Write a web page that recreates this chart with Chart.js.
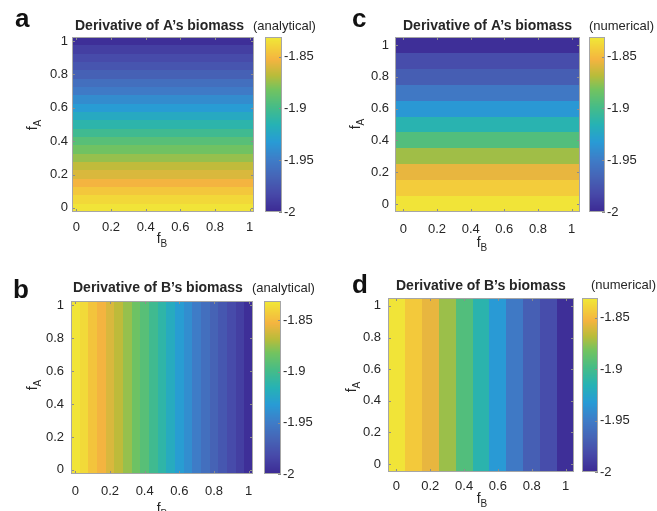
<!DOCTYPE html>
<html>
<head>
<meta charset="utf-8">
<script src="https://cdn.jsdelivr.net/npm/chart.js@4.4.0/dist/chart.umd.min.js"></script>
<style>
  body { margin: 0; background: #fff; width: 657px; height: 511px; overflow: hidden; position: relative; }
  canvas { position: absolute; }
</style>
</head>
<body>
<script>
// grid of fractions (f_A rows / f_B columns)
const fFine = [0, 0.05, 0.1, 0.15, 0.2, 0.25, 0.3, 0.35, 0.4, 0.45, 0.5,
               0.55, 0.6, 0.65, 0.7, 0.75, 0.8, 0.85, 0.9, 0.95, 1];
const fCoarse = [0, 0.1, 0.2, 0.3, 0.4, 0.5, 0.6, 0.7, 0.8, 0.9, 1];
const axisTicks = [0, 0.2, 0.4, 0.6, 0.8, 1];
const cbarTicks = [-2, -1.95, -1.9, -1.85];
const cbarMin = -2;
const cbarMax = -1.831;

// derivative of A's biomass, one value per f_A row (constant along f_B)
const dAanalytical = [-1.833, -1.838, -1.845, -1.853, -1.860, -1.866, -1.875, -1.883, -1.892, -1.902, -1.912,
                      -1.922, -1.932, -1.941, -1.951, -1.959, -1.968, -1.975, -1.981, -1.988, -1.997];
const dAnumerical = [-1.833, -1.843, -1.856, -1.873, -1.894, -1.914, -1.934, -1.953, -1.970, -1.980, -1.997];
// derivative of B's biomass, one value per f_B column (constant along f_A)
const dBanalytical = [-1.833, -1.837, -1.846, -1.853, -1.860, -1.867, -1.875, -1.884, -1.892, -1.902, -1.911,
                      -1.921, -1.931, -1.940, -1.950, -1.959, -1.967, -1.974, -1.981, -1.988, -1.997];
const dBnumerical = [-1.833, -1.844, -1.856, -1.874, -1.894, -1.913, -1.933, -1.952, -1.969, -1.980, -1.997];

// parula-like colour map
const cmapStops = [
  [0.00, [60, 42, 148]], [0.10, [71, 72, 168]], [0.20, [70, 100, 182]], [0.30, [62, 125, 200]],
  [0.40, [40, 155, 213]], [0.50, [38, 178, 180]], [0.60, [70, 188, 135]], [0.70, [115, 195, 95]],
  [0.78, [185, 188, 58]], [0.87, [244, 180, 64]], [0.94, [243, 208, 58]], [1.00, [240, 233, 55]]
];
function cmap(t) {
  t = Math.min(1, Math.max(0, t));
  for (let k = 1; k < cmapStops.length; k++) {
    const [t1, c1] = cmapStops[k];
    const [t0, c0] = cmapStops[k - 1];
    if (t <= t1) {
      const u = (t - t0) / (t1 - t0);
      const c = c0.map((v, i) => Math.round(v + (c1[i] - v) * u));
      return 'rgb(' + c.join(',') + ')';
    }
  }
  return 'rgb(240,233,55)';
}

const FONT = '"Liberation Sans", Arial, Helvetica, sans-serif';
const TXT = '#262626';
const BOX = '#a6a6a6';

const panels = [
  { letter: 'a', title: 'Derivative of A\u2019s biomass', note: '(analytical)', grid: fFine, values: dAanalytical, dir: 'A',
    canvas: { l: 0, t: 0, w: 330, h: 258 }, box: { l: 72, t: 37, r: 254, b: 212 }, cb: { l: 265, r: 282 },
    letterPos: [15, 27], titlePos: [75, 30], notePos: [253, 30], fAPos: [37, 125], fBPos: [162, 243], yPad: 4, xPad: 8 },
  { letter: 'c', title: 'Derivative of A\u2019s biomass', note: '(numerical)', grid: fCoarse, values: dAnumerical, dir: 'A',
    canvas: { l: 330, t: 0, w: 327, h: 258 }, box: { l: 395, t: 37, r: 580, b: 212 }, cb: { l: 589, r: 605 },
    letterPos: [352, 27], titlePos: [403, 30], notePos: [589, 30], fAPos: [360, 124], fBPos: [482, 247], yPad: 6, xPad: 10 },
  { letter: 'b', title: 'Derivative of B\u2019s biomass', note: '(analytical)', grid: fFine, values: dBanalytical, dir: 'B',
    canvas: { l: 0, t: 258, w: 330, h: 253 }, box: { l: 71, t: 301, r: 253, b: 474 }, cb: { l: 264, r: 281 },
    letterPos: [13, 298], titlePos: [73, 292], notePos: [252, 292], fAPos: [37, 385], fBPos: [162, 513], yPad: 7, xPad: 10 },
  { letter: 'd', title: 'Derivative of B\u2019s biomass', note: '(numerical)', grid: fCoarse, values: dBnumerical, dir: 'B',
    canvas: { l: 330, t: 258, w: 327, h: 253 }, box: { l: 388, t: 298, r: 574, b: 472 }, cb: { l: 582, r: 598 },
    letterPos: [352, 293], titlePos: [396, 290], notePos: [591, 289], fAPos: [356, 387], fBPos: [482, 503], yPad: 7, xPad: 7 }
];

const heatPlugin = {
  id: 'heat',
  beforeDatasetsDraw(chart, args, opts) {
    const { ctx } = chart;
    const xs = chart.scales.x, ys = chart.scales.y;
    const g = opts.grid, h = (g[1] - g[0]) / 2;
    ctx.save();
    g.forEach((fa, j) => g.forEach((fb, i) => {
      const v = opts.dir === 'A' ? opts.values[j] : opts.values[i];
      const x0 = Math.round(xs.getPixelForValue(fb - h)), x1 = Math.round(xs.getPixelForValue(fb + h));
      const y0 = Math.round(ys.getPixelForValue(fa + h)), y1 = Math.round(ys.getPixelForValue(fa - h));
      ctx.fillStyle = cmap((v - cbarMin) / (cbarMax - cbarMin));
      ctx.fillRect(x0, y0, x1 - x0, y1 - y0);
    }));
    const a = chart.chartArea;
    ctx.strokeStyle = '#8c8c8c';
    ctx.lineWidth = 1;
    axisTicks.forEach(t => {
      const x = Math.round(xs.getPixelForValue(t)) + 0.5;
      const y = Math.round(ys.getPixelForValue(t)) + 0.5;
      ctx.beginPath();
      ctx.moveTo(x, a.top); ctx.lineTo(x, a.top + 3);
      ctx.moveTo(x, a.bottom); ctx.lineTo(x, a.bottom - 3);
      ctx.moveTo(a.left, y); ctx.lineTo(a.left + 3, y);
      ctx.moveTo(a.right, y); ctx.lineTo(a.right - 3, y);
      ctx.stroke();
    });
    ctx.strokeStyle = BOX;
    ctx.strokeRect(a.left + 0.5, a.top + 0.5, a.right - a.left - 1, a.bottom - a.top - 1);
    ctx.restore();
  }
};

function drawSub(ctx, main, sub, x, y, align) {
  ctx.font = '14px ' + FONT;
  const w1 = ctx.measureText(main).width;
  ctx.font = '10px ' + FONT;
  const w2 = ctx.measureText(sub).width;
  const x0 = align === 'center' ? x - (w1 + w2) / 2 : x;
  ctx.textAlign = 'left';
  ctx.textBaseline = 'alphabetic';
  ctx.font = '14px ' + FONT;
  ctx.fillText(main, x0, y);
  ctx.font = '10px ' + FONT;
  ctx.fillText(sub, x0 + w1, y + 4);
}

const textPlugin = {
  id: 'texts',
  afterDraw(chart, args, p) {
    const { ctx } = chart;
    const ox = p.canvas.l, oy = p.canvas.t;
    ctx.save();
    ctx.fillStyle = '#111';
    ctx.textAlign = 'left';
    ctx.textBaseline = 'alphabetic';
    ctx.font = 'bold 26px ' + FONT;
    ctx.fillText(p.letter, p.letterPos[0] - ox, p.letterPos[1] - oy);
    ctx.fillStyle = TXT;
    ctx.font = 'bold 14px ' + FONT;
    ctx.fillText(p.title, p.titlePos[0] - ox, p.titlePos[1] - oy);
    ctx.font = '13px ' + FONT;
    ctx.fillText(p.note, p.notePos[0] - ox, p.notePos[1] - oy);
    drawSub(ctx, 'f', 'B', p.fBPos[0] - ox, p.fBPos[1] - oy, 'center');
    ctx.translate(p.fAPos[0] - ox, p.fAPos[1] - oy);
    ctx.rotate(-Math.PI / 2);
    drawSub(ctx, 'f', 'A', 0, 0, 'center');
    ctx.restore();
  }
};

const cbarPlugin = {
  id: 'cbar',
  beforeDatasetsDraw(chart) {
    const { ctx } = chart;
    const a = chart.chartArea, ys = chart.scales.y;
    ctx.save();
    for (let py = a.top; py < a.bottom; py++) {
      const v = ys.getValueForPixel(py + 0.5);
      ctx.fillStyle = cmap((v - cbarMin) / (cbarMax - cbarMin));
      ctx.fillRect(a.left, py, a.right - a.left, 1);
    }
    ctx.strokeStyle = '#8c8c8c';
    cbarTicks.forEach(t => {
      const y = Math.round(ys.getPixelForValue(t)) + 0.5;
      ctx.beginPath();
      ctx.moveTo(a.right, y); ctx.lineTo(a.right - 3, y);
      ctx.stroke();
    });
    ctx.strokeStyle = BOX;
    ctx.strokeRect(a.left + 0.5, a.top + 0.5, a.right - a.left - 1, a.bottom - a.top - 1);
    ctx.restore();
  }
};

function makeCanvas(l, t, w, h) {
  const c = document.createElement('canvas');
  c.width = w; c.height = h;
  c.style.left = l + 'px'; c.style.top = t + 'px';
  c.style.width = w + 'px'; c.style.height = h + 'px';
  document.body.appendChild(c);
  return c.getContext('2d');
}

const tickFont = { family: FONT, size: 13 };

panels.forEach(p => {
  const cv = p.canvas, b = p.box;
  const h = (p.grid[1] - p.grid[0]) / 2;
  const points = [];
  p.grid.forEach(fa => p.grid.forEach(fb => points.push({ x: fb, y: fa })));
  const axisW = b.l - cv.l, axisH = cv.t + cv.h - b.b;

  new Chart(makeCanvas(cv.l, cv.t, cv.w, cv.h), {
    type: 'scatter',
    data: { datasets: [{ data: points, pointRadius: 0, pointHoverRadius: 0 }] },
    options: {
      responsive: false,
      animation: false,
      events: [],
      layout: { padding: { left: 0, top: b.t - cv.t, right: cv.l + cv.w - b.r, bottom: 0 } },
      plugins: { legend: { display: false }, tooltip: { enabled: false }, heat: p, texts: p },
      scales: {
        x: {
          type: 'linear', min: -h, max: 1 + h,
          grid: { display: false, drawTicks: false }, border: { display: false },
          afterBuildTicks: s => { s.ticks = axisTicks.map(v => ({ value: v })); },
          afterFit: s => { s.height = axisH; },
          ticks: { color: TXT, font: tickFont, padding: p.xPad, maxRotation: 0, autoSkip: false, callback: v => String(v) }
        },
        y: {
          type: 'linear', min: -h, max: 1 + h,
          grid: { display: false, drawTicks: false }, border: { display: false },
          afterBuildTicks: s => { s.ticks = axisTicks.map(v => ({ value: v })); },
          afterFit: s => { s.width = axisW; },
          ticks: { color: TXT, font: tickFont, padding: p.yPad, autoSkip: false, callback: v => String(v) }
        }
      }
    },
    plugins: [heatPlugin, textPlugin]
  });

  const cbW = p.cb.r - p.cb.l, W = 75;
  new Chart(makeCanvas(p.cb.l, b.t - 10, W, b.b - b.t + 20), {
    type: 'scatter',
    data: { datasets: [{ data: [], pointRadius: 0 }] },
    options: {
      responsive: false,
      animation: false,
      events: [],
      layout: { padding: { left: 0, top: 10, bottom: 10, right: 0 } },
      plugins: { legend: { display: false }, tooltip: { enabled: false } },
      scales: {
        x: { type: 'linear', display: false, min: 0, max: 1 },
        y: {
          type: 'linear', position: 'right', min: cbarMin, max: cbarMax,
          grid: { display: false, drawTicks: false }, border: { display: false },
          afterBuildTicks: s => { s.ticks = cbarTicks.map(v => ({ value: v })); },
          afterFit: s => { s.width = W - cbW; },
          ticks: { color: TXT, font: tickFont, padding: 2, autoSkip: false, callback: v => String(v) }
        }
      }
    },
    plugins: [cbarPlugin]
  });
});
</script>
</body>
</html>
